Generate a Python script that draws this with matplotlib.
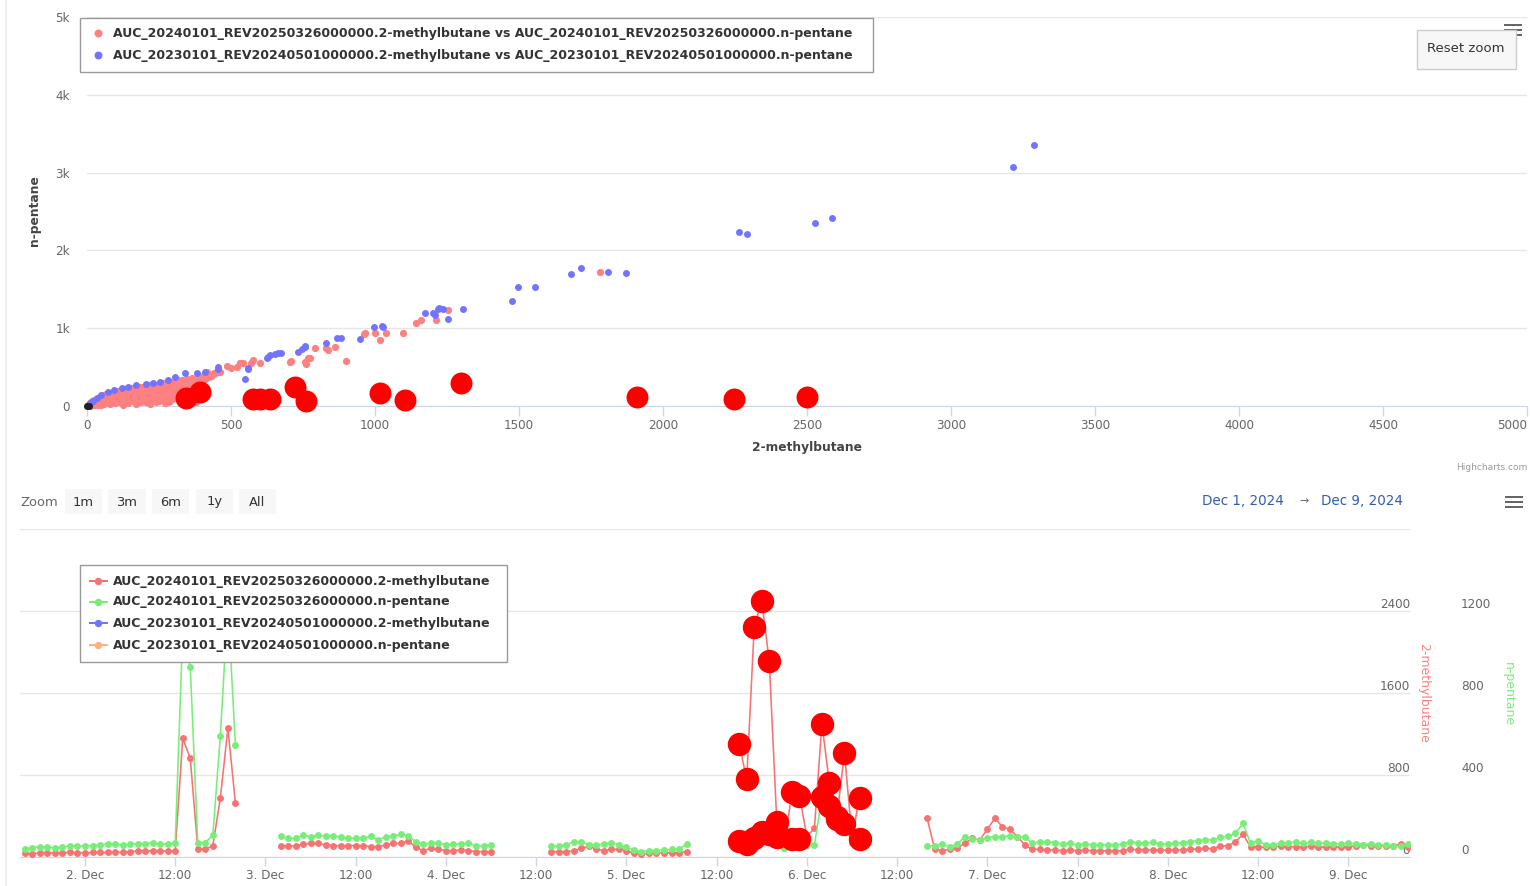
import matplotlib
matplotlib.use("Agg")
import numpy as np
import matplotlib.pyplot as plt
from matplotlib.patches import Rectangle
from matplotlib.lines import Line2D
from matplotlib.ticker import FuncFormatter
from matplotlib.transforms import blended_transform_factory, offset_copy
from datetime import datetime, timedelta

plt.rcParams['font.family'] = ['DejaVu Sans']

# ---------------------------------------------------------------- series names
NAME_24_MB = "AUC_20240101_REV20250326000000.2-methylbutane"
NAME_24_NP = "AUC_20240101_REV20250326000000.n-pentane"
NAME_23_MB = "AUC_20230101_REV20240501000000.2-methylbutane"
NAME_23_NP = "AUC_20230101_REV20240501000000.n-pentane"

# ---------------------------------------------------------------- hourly data, Dec 2024 (2024 revision)
SEG_START = ["2024-12-01 16:00", "2024-12-03 02:00", "2024-12-04 14:00",
             "2024-12-05 15:00", "2024-12-06 16:00"]

MB_SEG1 = [36, 30, 40, 42, 38, 40, 46, 42, 42, 44, 44, 46, 44, 48, 52, 58, 60, 62, 62, 56,
           60, 1159, 962, 78, 78, 110, 577, 1255, 531]
NP_SEG1 = [40, 45, 50, 48, 45, 48, 55, 52, 55, 55, 58, 65, 62, 58, 62, 65, 65, 68, 62, 62,
           70, 1105, 925, 70, 70, 107, 591, 1234, 548]

MB_SEG2 = [107, 107, 107, 127, 133, 133, 117, 111, 111, 111, 111, 111, 101, 101, 117, 133,
           133, 159, 94, 62, 85, 75, 62, 62, 68, 62, 52, 52, 52]
NP_SEG2 = [102, 91, 91, 107, 99, 107, 102, 102, 99, 91, 91, 91, 102, 83, 99, 102, 112, 102,
           75, 63, 67, 70, 59, 63, 63, 67, 54, 54, 59]

MB_SEG3 = [52, 52, 52, 62, 85, 107, 75, 62, 75, 75, 62, 36, 29, 36, 42, 42, 42, 42, 52]
NP_SEG3 = [54, 54, 59, 75, 75, 59, 59, 63, 70, 59, 47, 34, 26, 31, 31, 34, 37, 37, 63]

MB_SEG4 = [1103, 759, 2245, 2500, 1910, 345, 90, 634, 600, 200, 280, 1300, 721, 391, 1016,
           198, 576]
NP_SEG4 = [77, 64, 94, 120, 112, 99, 45, 87, 87, 60, 57, 292, 248, 184, 163, 70, 87]

MB_SEG5 = [377, 75, 62, 75, 85, 133, 182, 166, 270, 377, 296, 270, 198, 117, 75, 75, 70, 68,
           62, 65, 62, 65, 62, 62, 60, 58, 62, 80, 68, 68, 70, 65, 68, 70, 68, 75, 80, 85,
           80, 110, 107, 150, 220, 100, 100, 95, 100, 105, 100, 100, 95, 105, 100, 95, 100,
           95, 100, 110, 115, 110, 110, 108, 112, 125, 100]
NP_SEG5 = [54, 55, 63, 50, 63, 99, 88, 83, 95, 99, 99, 102, 99, 96, 67, 75, 75, 70, 63, 67,
           58, 63, 60, 60, 58, 58, 63, 75, 68, 68, 72, 63, 63, 67, 70, 75, 80, 85, 83, 97,
           102, 115, 164, 67, 80, 60, 60, 67, 70, 72, 67, 72, 70, 67, 65, 63, 67, 65, 60,
           63, 58, 60, 55, 54, 62]

MB_SEGS = [MB_SEG1, MB_SEG2, MB_SEG3, MB_SEG4, MB_SEG5]
NP_SEGS = [NP_SEG1, NP_SEG2, NP_SEG3, NP_SEG4, NP_SEG5]

# hours flagged as anomalous (n-pentane too low for the 2-methylbutane level)
FLAGGED = ["2024-12-05 15:00", "2024-12-05 16:00", "2024-12-05 17:00", "2024-12-05 18:00",
           "2024-12-05 19:00", "2024-12-05 20:00", "2024-12-05 22:00", "2024-12-05 23:00",
           "2024-12-06 02:00", "2024-12-06 03:00", "2024-12-06 04:00", "2024-12-06 05:00",
           "2024-12-06 07:00"]

# ---------------------------------------------------------------- other history of the 2024 revision
HIST24_MB = [4, 8, 12, 15, 18, 22, 25, 28, 31, 35, 38, 41, 44, 47, 50, 53, 56, 60, 63, 66,
             70, 74, 77, 81, 85, 88, 92, 96, 100, 104, 108, 112, 116, 120, 125, 129, 133, 137,
             142, 146, 150, 154, 158, 163, 167, 171, 176, 180, 184, 189, 193, 197, 202, 206,
             211, 215, 220, 224, 229, 233, 238, 242, 247, 251, 256, 261, 265, 270, 274, 279,
             283, 288, 292, 297, 301, 306, 311, 315, 320, 325, 330, 335, 340, 346, 352, 358,
             364, 370, 377, 384, 391, 398, 405, 413, 421, 430, 440, 452,
             6, 10, 14, 19, 24, 27, 33, 37, 42, 46, 51, 55, 58, 62, 67, 71, 76, 79, 83, 87,
             91, 94, 98, 102, 106, 110, 114, 118, 123, 127, 131, 135, 139, 144, 148, 152, 156,
             161, 165, 169, 173, 178, 182, 186, 191, 195, 199, 204, 208, 213, 217, 222, 226,
             231, 235, 240, 244, 249, 253, 258, 263, 267, 272, 276, 281, 285, 290, 294, 299,
             303, 308, 313, 317, 322, 327, 332, 337, 343, 349, 355, 361, 367, 374, 381, 388,
             395, 402, 409, 417, 425, 435, 446,
             416, 462, 487, 501, 520, 530, 542, 570, 601, 704, 707, 756, 760, 767, 776, 790,
             831, 836, 860, 900, 964, 999, 1016, 1039, 1097, 1142, 1211, 1780]
HIST24_NP = [3, 14, 6, 28, 12, 40, 9, 55, 22, 70, 14, 88, 35, 105, 18, 62, 125, 28, 92, 140,
             45, 118, 160, 20, 75, 138, 178, 34, 100, 155, 192, 55, 128, 205, 15, 82, 170, 218,
             40, 112, 195, 228, 62, 145, 236, 25, 95, 180, 248, 48, 130, 214, 258, 72, 160,
             268, 30, 105, 195, 276, 55, 140, 232, 288, 85, 175, 296, 40, 120, 215, 305, 65,
             160, 250, 315, 100, 198, 328, 140, 240, 338, 175, 282, 350, 215, 320, 362, 255,
             345, 300, 375, 335, 392, 360, 405, 385, 418, 432,
             20, 35, 48, 60, 80, 25, 50, 95, 60, 120, 85, 140, 50, 110, 155, 80, 135, 40, 165,
             110, 70, 150, 185, 45, 130, 165, 95, 190, 140, 55, 200, 115, 165, 75, 215, 130,
             175, 90, 220, 145, 195, 60, 230, 160, 105, 240, 180, 45, 125, 240, 195, 80, 250,
             165, 120, 260, 205, 60, 150, 270, 220, 100, 275, 180, 140, 285, 235, 95, 200,
             295, 260, 130, 305, 185, 280, 220, 320, 250, 300, 240, 335, 280, 330, 300, 360,
             320, 380, 345, 390, 370, 400, 420,
             441, 441, 514, 485, 505, 548, 557, 557, 548, 570, 582, 570, 540, 613, 613, 741,
             741, 720, 762, 582, 934, 934, 848, 934, 934, 1063, 1105, 1726]

# ---------------------------------------------------------------- 2023 revision
HIST23_MB = [10, 22, 35, 50, 73, 95, 120, 142, 170, 206, 230, 252, 280, 305, 339, 381, 409,
             455, 456, 548, 559, 560, 624, 628, 635, 652, 664, 675, 733, 747, 756, 757, 831,
             869, 883, 949, 996, 1026, 1029, 1173, 1203, 1208, 1218, 1223, 1235, 1255, 1305,
             1475, 1498, 1554, 1680, 1717, 1810, 1870, 2265, 2291, 2528, 2588, 3217, 3288]
HIST23_NP = [40, 70, 100, 135, 184, 205, 230, 248, 265, 283, 300, 312, 340, 372, 420, 420, 441,
             505, 472, 343, 485, 472, 613, 634, 656, 668, 677, 685, 698, 728, 762, 771, 806,
             878, 870, 857, 1019, 1028, 1011, 1199, 1192, 1170, 1247, 1256, 1247, 1114, 1247,
             1350, 1534, 1534, 1697, 1770, 1726, 1706, 2232, 2211, 2348, 2412, 3068, 3351]

# readings logged as zero
ZERO_MB = [0, 6]
ZERO_NP = [0, 3]

# ---------------------------------------------------------------- axes ticks / labels
SC_XTICKS = list(range(0, 5001, 500))
SC_YTICKS = [0, 1000, 2000, 3000, 4000, 5000]
SC_YLABELS = ["0", "1k", "2k", "3k", "4k", "5k"]
MB_TICKS = [0, 800, 1600, 2400]
NP_TICKS = [0, 400, 800, 1200]
ZOOM_BUTTONS = ["1m", "3m", "6m", "1y", "All"]
RANGE_FROM, RANGE_TO = "Dec 1, 2024", "Dec 9, 2024"

# ---------------------------------------------------------------- styling
RED_PT = "#ff8080"
BLUE_PT = "#7373ff"
RED_LINE = "#f87272"
GREEN_LINE = "#78ee78"
BLUE_LINE = "#7373ff"
ORANGE_LINE = "#ffb07c"
FLAG_RED = "#ff0000"
AXIS_LINE = "#ccd6eb"
GRID = "#e6e6e6"
LABEL = "#666666"
DARK = "#333333"

W, H, DPI = 1530, 886, 100


def fx(x):
    return x / W


def fy(y):
    return 1 - y / H


def pt(px):
    return px * 72 / DPI


def parse(s):
    return datetime.strptime(s, "%Y-%m-%d %H:%M")


fig = plt.figure(figsize=(W / DPI, H / DPI), dpi=DPI)
fig.patch.set_facecolor("white")

# assemble hourly series
times, mbs, nps = [], [], []
for start, mb, npn in zip(SEG_START, MB_SEGS, NP_SEGS):
    t0 = parse(start)
    times.append([t0 + timedelta(hours=i) for i in range(len(mb))])
    mbs.append(np.array(mb, float))
    nps.append(np.array(npn, float))
flag_set = set(parse(s) for s in FLAGGED)
all_t = [t for seg in times for t in seg]
all_mb = np.concatenate(mbs)
all_np = np.concatenate(nps)
is_flag = np.array([t in flag_set for t in all_t])

# ================================================================ scatter chart
ax = fig.add_axes([fx(87), fy(406), (1527 - 87) / W, (406 - 17) / H])
ax.set_xlim(0, 5000)
ax.set_ylim(0, 5000)
for s in ("top", "right", "left"):
    ax.spines[s].set_visible(False)
ax.spines["bottom"].set_color(AXIS_LINE)
ax.set_xticks(SC_XTICKS)
ax.set_yticks(SC_YTICKS)
ax.set_yticklabels(SC_YLABELS)
ax.tick_params(axis="y", length=0, pad=pt(17), labelsize=pt(12), labelcolor=LABEL)
ax.tick_params(axis="x", length=pt(10), width=1, color=AXIS_LINE, pad=pt(3),
               labelsize=pt(12), labelcolor=LABEL)
ax.get_xticklabels()[-1].set_ha("right")
ax.grid(axis="y", color=GRID, lw=1)
ax.set_axisbelow(True)

red_x = np.concatenate([all_mb[~is_flag], HIST24_MB])
red_y = np.concatenate([all_np[~is_flag], HIST24_NP])
ax.scatter(red_x, red_y, s=27, c=RED_PT, linewidths=0, clip_on=False, zorder=3)
ax.scatter(HIST23_MB, HIST23_NP, s=25, c=BLUE_PT, linewidths=0, clip_on=False, zorder=4)
ax.scatter(ZERO_MB, ZERO_NP, s=26, c="#222222", linewidths=0, clip_on=False, zorder=4)
ax.scatter(all_mb[is_flag], all_np[is_flag], s=250, c=FLAG_RED, linewidths=0,
           clip_on=False, zorder=5)

fig.text(fx(807), fy(447), "2-methylbutane", ha="center", va="center",
         fontsize=pt(12.3), fontweight="bold", color="#444444")
fig.text(fx(35), fy(211), "n-pentane", ha="center", va="center", rotation=90,
         fontsize=pt(12.3), fontweight="bold", color="#444444")

# legend of the scatter chart
fig.add_artist(Rectangle((fx(80), fy(72)), (873 - 80) / W, (72 - 18) / H,
                         transform=fig.transFigure, facecolor="white",
                         edgecolor="#999999", lw=1, zorder=6))
for yy, col, lab in ((33, RED_PT, f"{NAME_24_MB} vs {NAME_24_NP}"),
                     (55, BLUE_PT, f"{NAME_23_MB} vs {NAME_23_NP}")):
    fig.add_artist(Line2D([fx(98)], [fy(yy)], marker="o", ms=pt(6.5), color=col, lw=0,
                          transform=fig.transFigure, zorder=7))
    fig.text(fx(113), fy(yy), lab, ha="left", va="center", fontsize=pt(12.5),
             fontweight="bold", color=DARK, zorder=7)

# export menu + reset zoom button
for yy in (25, 30, 35):
    fig.add_artist(Rectangle((fx(1504), fy(yy + 1.2)), 18 / W, 2.4 / H,
                             transform=fig.transFigure, color="#666666", lw=0, zorder=6))
fig.add_artist(Rectangle((fx(1417), fy(69)), 99 / W, 39 / H, transform=fig.transFigure,
                         facecolor="#f7f7f7", edgecolor="#cccccc", lw=1, zorder=7))
fig.text(fx(1466), fy(48), "Reset zoom", ha="center", va="center", fontsize=pt(13.2),
         color=DARK, zorder=8)
fig.text(fx(1527), fy(467), "Highcharts.com", ha="right", va="center", fontsize=pt(9),
         color="#999999")

# ================================================================ time-series chart
ax_mb = fig.add_axes([fx(20), fy(857), (1410 - 20) / W, (857 - 529) / H])
ax_np = ax_mb.twinx()
day0 = datetime(2024, 12, 2)
ax_mb.set_xlim(day0 + timedelta(days=-0.3602), day0 + timedelta(days=7.3421))
ax_mb.set_ylim(0, 3200)
ax_np.set_ylim(0, 1600)
for a in (ax_mb, ax_np):
    for s in ("top", "right", "left"):
        a.spines[s].set_visible(False)
    a.spines["bottom"].set_visible(False)
ax_mb.spines["bottom"].set_visible(True)
ax_mb.spines["bottom"].set_color(AXIS_LINE)
ax_mb.spines["bottom"].set_zorder(0.5)

ax_mb.set_yticks([0, 800, 1600, 2400, 3200])
ax_mb.tick_params(axis="y", length=0, labelleft=False)
ax_np.set_yticks([])
ax_mb.grid(axis="y", color=GRID, lw=1)
ax_mb.set_axisbelow(True)

xt = [day0 + timedelta(hours=12 * k) for k in range(15)]
ax_mb.set_xticks(xt)
ax_mb.xaxis.set_major_formatter(FuncFormatter(
    lambda v, p: (lambda d: f"{d.day}. Dec" if d.hour == 0 else "12:00")(
        matplotlib.dates.num2date(v))))
ax_mb.tick_params(axis="x", length=pt(9), width=1, color=AXIS_LINE, pad=pt(3),
                  labelsize=pt(12), labelcolor=LABEL)

# axis labels sitting just above their grid lines
tr_mb = offset_copy(blended_transform_factory(ax_mb.transAxes, ax_mb.transData),
                    fig=fig, x=0, y=7, units="dots")
for v in MB_TICKS:
    ax_mb.text(1.0, v, str(v), transform=tr_mb, ha="right", va="center",
               fontsize=pt(12), color=LABEL)
tr_np = offset_copy(blended_transform_factory(ax_np.transAxes, ax_np.transData),
                    fig=fig, x=0, y=7, units="dots")
for v in NP_TICKS:
    ax_np.text((1461 - 20) / 1390, v, str(v), transform=tr_np, ha="left", va="center",
               fontsize=pt(12), color=LABEL)
fig.text(fx(1424), fy(693), "2-methylbutane", rotation=270, ha="center", va="center",
         fontsize=pt(12.5), color=RED_PT)
fig.text(fx(1508), fy(694), "n-pentane", rotation=270, ha="center", va="center",
         fontsize=pt(12.5), color=GREEN_LINE)

for t, mb, npn in zip(times, mbs, nps):
    ax_mb.plot(t, mb, color=RED_LINE, lw=pt(1.6), marker="o", ms=pt(5.5), zorder=3)
    ax_np.plot(t, npn, color=GREEN_LINE, lw=pt(1.6), marker="o", ms=pt(5.5), zorder=3)

flag_t = [t for t, f in zip(all_t, is_flag) if f]
ax_np.plot(flag_t, all_np[is_flag], "o", ms=pt(22), color=FLAG_RED, zorder=5)
ax_np.plot(flag_t, all_mb[is_flag], "o", ms=pt(22), color=FLAG_RED, zorder=6,
           transform=ax_mb.transData)
ax_np.set_ylim(0, 1600)

# legend of the time-series chart
fig.add_artist(Rectangle((fx(80), fy(662)), (507 - 80) / W, (662 - 565) / H,
                         transform=fig.transFigure, facecolor="white",
                         edgecolor="#999999", lw=1, zorder=6))
for yy, col, lab in ((581, RED_LINE, NAME_24_MB), (602, GREEN_LINE, NAME_24_NP),
                     (623, BLUE_LINE, NAME_23_MB), (645, ORANGE_LINE, NAME_23_NP)):
    fig.add_artist(Line2D([fx(90), fx(107)], [fy(yy), fy(yy)], color=col, lw=pt(2),
                          transform=fig.transFigure, zorder=7))
    fig.add_artist(Line2D([fx(98.5)], [fy(yy)], marker="o", ms=pt(6), color=col, lw=0,
                          transform=fig.transFigure, zorder=7))
    fig.text(fx(113), fy(yy), lab, ha="left", va="center", fontsize=pt(12.5),
             fontweight="bold", color=DARK, zorder=7)

# range selector
fig.text(fx(20), fy(502), "Zoom", ha="left", va="center", fontsize=pt(13), color=LABEL)
for (x0, w), lab in zip(((65, 37), (108, 38), (152, 37), (196, 37), (239, 37)),
                        ZOOM_BUTTONS):
    fig.add_artist(Rectangle((fx(x0), fy(514)), w / W, 25 / H, transform=fig.transFigure,
                             facecolor="#f7f7f7", edgecolor="none", zorder=6))
    fig.text(fx(x0 + w / 2), fy(502), lab, ha="center", va="center", fontsize=pt(13),
             color=DARK, zorder=7)
fig.text(fx(1202), fy(501), RANGE_FROM, ha="left", va="center", fontsize=pt(13.5),
         color="#335cad")
fig.text(fx(1304), fy(501), "\u2192", ha="center", va="center", fontsize=pt(11),
         color=LABEL)
fig.text(fx(1321), fy(501), RANGE_TO, ha="left", va="center", fontsize=pt(13.5),
         color="#335cad")
for yy in (497, 502, 507):
    fig.add_artist(Rectangle((fx(1505), fy(yy + 1.2)), 18 / W, 2.4 / H,
                             transform=fig.transFigure, color="#666666", lw=0, zorder=6))

# container border
fig.add_artist(Line2D([fx(6.5), fx(6.5)], [0, 1], color="#ebebeb", lw=pt(1.5),
                      transform=fig.transFigure, zorder=0))

fig.savefig("out.png", dpi=DPI, facecolor="white")
